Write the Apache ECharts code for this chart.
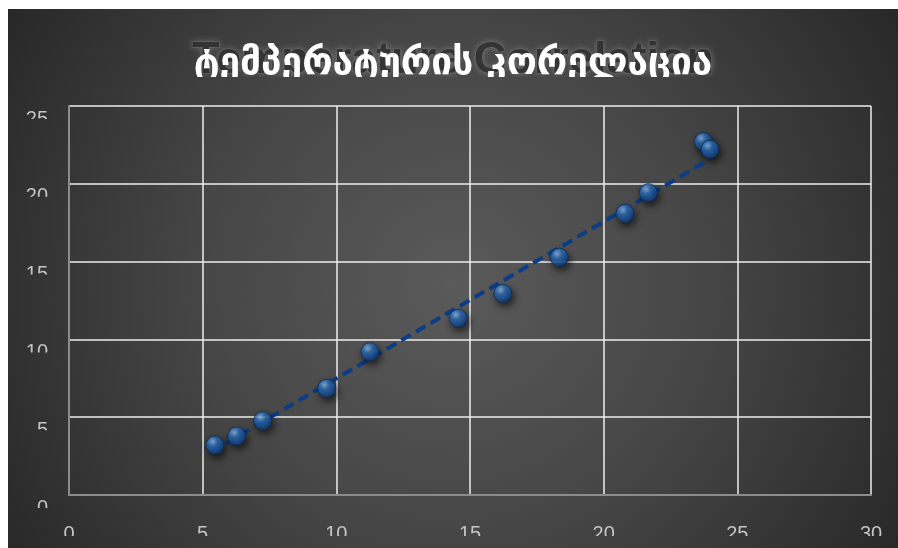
<!DOCTYPE html>
<html>
<head>
<meta charset="utf-8">
<script src="https://cdn.jsdelivr.net/npm/echarts@6/dist/echarts.min.js"></script>
<style>
  html, body { margin: 0; padding: 0; background: #ffffff; width: 898px; height: 548px; overflow: hidden; }
  #chart { position: absolute; left: 8px; top: 9px; width: 890px; height: 539px; }
</style>
</head>
<body>
<div id="chart"></div>
<script>
// Temperature readings: x = first sensor, y = second sensor
const tempX = [5.46, 6.27, 7.25, 9.64, 11.26, 14.56, 16.23, 18.34, 20.80, 21.67, 23.73, 23.98];
const tempY = [3.21, 3.79, 4.78, 6.86, 9.21, 11.36, 12.96, 15.28, 18.10, 19.43, 22.71, 22.22];

// Linear trend line end points
const trendX = [5.3, 24.0];
const trendY = [2.75, 21.6];

// Axis ticks
const xTicks = [0, 5, 10, 15, 20, 25, 30];
const yTicks = [0, 5, 10, 15, 20, 25];

const titleText = 'ტემპერატურის კორელაცია';
const shadowText = 'Temperature Correlation';

const bgGradient = () => ({
  type: 'radial', x: 445, y: 275, r: 560, global: true,
  colorStops: [
    { offset: 0, color: '#5a5a5a' },
    { offset: 0.45, color: '#464646' },
    { offset: 1, color: '#242424' }
  ]
});

const chart = echarts.init(document.getElementById('chart'), null, { renderer: 'canvas' });

const points = tempX.map((x, i) => [x, tempY[i]]);
const trend = trendX.map((x, i) => [x, trendY[i]]);

const labelFont = 'Liberation Sans, Arial, sans-serif';

chart.setOption({
  backgroundColor: bgGradient(),
  animation: false,
  title: [
    {
      text: shadowText, left: 'center', top: 24,
      textStyle: {
        fontFamily: labelFont, fontSize: 45, fontWeight: 'bold',
        color: 'rgba(40,40,40,0.8)',
        textBorderColor: 'rgba(120,120,120,0.45)', textBorderWidth: 1,
        textShadowColor: 'rgba(150,150,150,0.7)', textShadowBlur: 6
      }
    },
    {
      text: titleText, left: 'center', top: 32,
      textStyle: {
        fontFamily: 'DejaVu Sans, sans-serif', fontSize: 37, fontWeight: 'bold',
        color: '#ffffff'
      }
    }
  ],
  grid: { left: 61, top: 97, right: 27, bottom: 53, containLabel: false },
  xAxis: {
    type: 'value', min: xTicks[0], max: xTicks[xTicks.length - 1], interval: 5,
    axisLine: { show: true, lineStyle: { color: '#8c8c8c', width: 2 } },
    axisTick: { show: false },
    axisLabel: { color: '#c4c4c4', fontSize: 20, fontFamily: labelFont, margin: 29, lineHeight: 20 },
    splitLine: { show: true, lineStyle: { color: '#eeeeee', width: 1.5 } }
  },
  yAxis: {
    type: 'value', min: yTicks[0], max: yTicks[yTicks.length - 1], interval: 5,
    axisLine: { show: true, lineStyle: { color: '#8c8c8c', width: 2 } },
    axisTick: { show: false },
    axisLabel: { color: '#c4c4c4', fontSize: 20, fontFamily: labelFont, margin: 21, verticalAlign: 'top', lineHeight: 26 },
    splitLine: { show: true, lineStyle: { color: '#eeeeee', width: 1.5 } }
  },
  series: [
    {
      name: 'Trend', type: 'line', data: trend, symbol: 'none', z: 3,
      lineStyle: { color: '#0b3c86', width: 4, type: [11, 6] }
    },
    {
      name: 'Readings', type: 'scatter', data: points, symbolSize: 18, z: 4,
      itemStyle: {
        color: {
          type: 'radial', x: 0.38, y: 0.32, r: 0.72,
          colorStops: [
            { offset: 0, color: '#9cc8f2' },
            { offset: 0.35, color: '#2f74c4' },
            { offset: 1, color: '#0c3a78' }
          ]
        },
        borderColor: '#0a2c5c', borderWidth: 1,
        shadowColor: 'rgba(0,0,0,0.75)', shadowBlur: 7, shadowOffsetX: 2, shadowOffsetY: 4
      }
    }
  ]
});

// Mask the lower part of each tick label and of the title with the background
const masks = [];
yTicks.forEach(v => {
  const p = chart.convertToPixel({ gridIndex: 0 }, [0, v]);
  masks.push({
    type: 'rect', z: 100, silent: true,
    shape: { x: 2, y: p[1] + 13, width: 54, height: 11 },
    style: { fill: bgGradient() }
  });
});
masks.push({
  type: 'rect', z: 100, silent: true,
  shape: { x: 40, y: 527, width: 850, height: 12 },
  style: { fill: bgGradient() }
});
masks.push({
  type: 'rect', z: 100, silent: true,
  shape: { x: 170, y: 68, width: 560, height: 14 },
  style: { fill: bgGradient() }
});
chart.setOption({ graphic: masks });
</script>
</body>
</html>
